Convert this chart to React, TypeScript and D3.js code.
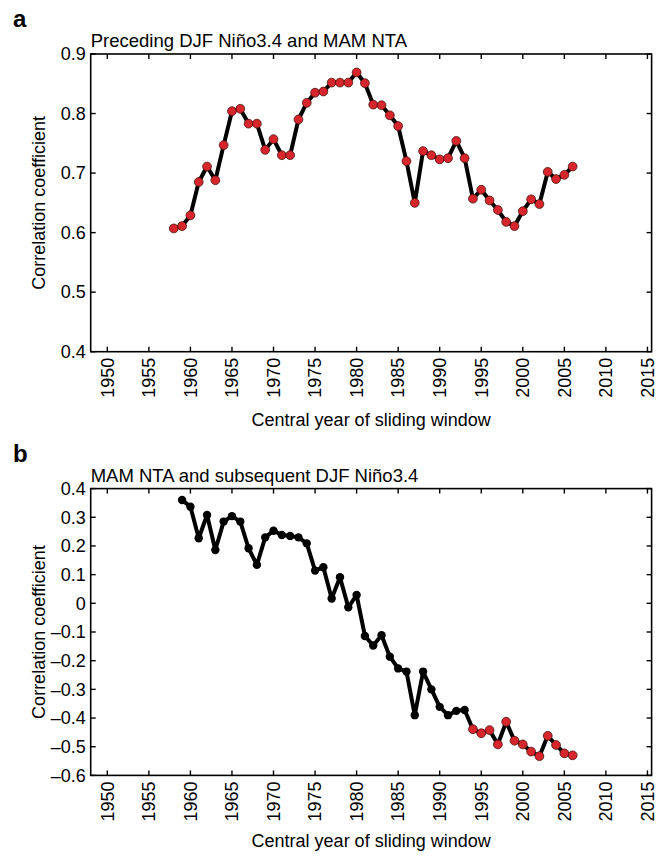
import * as d3 from 'd3';

// chart values
const YEARS_A = [
  1958, 1959, 1960, 1961, 1962, 1963, 1964, 1965, 1966, 1967,
  1968, 1969, 1970, 1971, 1972, 1973, 1974, 1975, 1976, 1977,
  1978, 1979, 1980, 1981, 1982, 1983, 1984, 1985, 1986, 1987,
  1988, 1989, 1990, 1991, 1992, 1993, 1994, 1995, 1996, 1997,
  1998, 1999, 2000, 2001, 2002, 2003, 2004, 2005, 2006,
];
const CORR_A = [
  0.607, 0.611, 0.629, 0.685, 0.711, 0.688, 0.747, 0.804, 0.808, 0.783,
  0.783, 0.739, 0.757, 0.73, 0.73, 0.79, 0.818, 0.835, 0.837, 0.852,
  0.852, 0.852, 0.869, 0.851, 0.815, 0.814, 0.797, 0.779, 0.72, 0.65,
  0.737, 0.73, 0.723, 0.725, 0.754, 0.725, 0.657, 0.672, 0.654, 0.638,
  0.618, 0.611, 0.636, 0.656, 0.648, 0.702, 0.69, 0.697, 0.711,
];
const SIG_A = YEARS_A; // every point in panel a is significant

const YEARS_B = [
  1959, 1960, 1961, 1962, 1963, 1964, 1965, 1966, 1967, 1968,
  1969, 1970, 1971, 1972, 1973, 1974, 1975, 1976, 1977, 1978,
  1979, 1980, 1981, 1982, 1983, 1984, 1985, 1986, 1987, 1988,
  1989, 1990, 1991, 1992, 1993, 1994, 1995, 1996, 1997, 1998,
  1999, 2000, 2001, 2002, 2003, 2004, 2005, 2006,
];
const CORR_B = [
  0.36, 0.337, 0.227, 0.308, 0.186, 0.285, 0.304, 0.285, 0.192, 0.134,
  0.23, 0.253, 0.238, 0.235, 0.23, 0.209, 0.114, 0.126, 0.017, 0.091,
  -0.014, 0.029, -0.114, -0.147, -0.111, -0.186, -0.227, -0.238, -0.39, -0.238,
  -0.3, -0.361, -0.39, -0.375, -0.372, -0.439, -0.453, -0.442, -0.492, -0.413,
  -0.479, -0.492, -0.517, -0.533, -0.462, -0.494, -0.523, -0.53,
];
const SIG_B = [
  1994, 1995, 1996, 1997, 1998, 1999, 2000, 2001, 2002, 2003, 2004, 2005, 2006,
];

const X_TICKS = [1950, 1955, 1960, 1965, 1970, 1975, 1980, 1985, 1990, 1995, 2000, 2005, 2010, 2015];
const Y_TICKS_A = [0.4, 0.5, 0.6, 0.7, 0.8, 0.9];
const Y_TICKS_B = [-0.6, -0.5, -0.4, -0.3, -0.2, -0.1, 0, 0.1, 0.2, 0.3, 0.4];

// layout
const W = 664;
const H = 856;
const LEFT = 90.7;
const RIGHT = 651.6;
const TICK = 5;
const FS = 18;
const FONT = 'Liberation Sans, Arial, Helvetica, sans-serif';
const RED = '#d7262b';

const x = d3.scaleLinear().domain([1948, 2015.5]).range([LEFT, RIGHT]);

const fmt = (v: number) => {
  if (Math.abs(v) < 1e-9) return '0';
  const s = d3.format('.1f')(Math.abs(v));
  return v < 0 ? '\u2013' + s : s;
};

type PanelProps = {
  letter: string;
  title: string;
  top: number;
  bottom: number;
  xTitleGap: number;
  yDomain: [number, number];
  yTicks: number[];
  years: number[];
  values: number[];
  sig: number[];
};

const Panel = ({ letter, title, top, bottom, xTitleGap, yDomain, yTicks, years, values, sig }: PanelProps) => {
  const y = d3.scaleLinear().domain(yDomain).range([bottom, top]);
  const pts = years.map((yr, i) => ({ yr, v: values[i] }));
  const line = d3
    .line<{ yr: number; v: number }>()
    .x((d) => x(d.yr))
    .y((d) => y(d.v));

  return (
    <g fontFamily={FONT}>
      <text x={13} y={top - 27} fontSize={24} fontWeight="bold">
        {letter}
      </text>
      <text x={LEFT} y={top - 7} fontSize={18.5}>
        {title}
      </text>

      {/* ticks, inward on all four sides */}
      {X_TICKS.map((t) => (
        <g key={'x' + t}>
          <line x1={x(t)} x2={x(t)} y1={bottom} y2={bottom - TICK} stroke="#000" strokeWidth={1.4} />
          <line x1={x(t)} x2={x(t)} y1={top} y2={top + TICK} stroke="#000" strokeWidth={1.4} />
          <text
            transform={`translate(${x(t)},${bottom + 6}) rotate(-90)`}
            textAnchor="end"
            dy="0.35em"
            fontSize={FS}
          >
            {t}
          </text>
        </g>
      ))}
      {yTicks.map((t) => (
        <g key={'y' + t}>
          <line x1={LEFT} x2={LEFT + TICK} y1={y(t)} y2={y(t)} stroke="#000" strokeWidth={1.4} />
          <line x1={RIGHT} x2={RIGHT - TICK} y1={y(t)} y2={y(t)} stroke="#000" strokeWidth={1.4} />
          <text x={LEFT - 5} y={y(t)} dy="0.35em" textAnchor="end" fontSize={FS}>
            {fmt(t)}
          </text>
        </g>
      ))}
      <rect x={LEFT} y={top} width={RIGHT - LEFT} height={bottom - top} fill="none" stroke="#000" strokeWidth={1.6} />

      <path d={line(pts) ?? ''} fill="none" stroke="#000" strokeWidth={4} strokeLinejoin="round" />
      {pts.map((d) =>
        sig.includes(d.yr) ? (
          <circle key={d.yr} cx={x(d.yr)} cy={y(d.v)} r={4.4} fill={RED} stroke="#4a1010" strokeWidth={0.8} />
        ) : (
          <circle key={d.yr} cx={x(d.yr)} cy={y(d.v)} r={4.2} fill="#000" />
        )
      )}

      <text
        transform={`translate(45,${(top + bottom) / 2}) rotate(-90)`}
        textAnchor="middle"
        fontSize={FS}
      >
        Correlation coefficient
      </text>
      <text x={(LEFT + RIGHT) / 2} y={bottom + xTitleGap} textAnchor="middle" fontSize={FS}>
        Central year of sliding window
      </text>
    </g>
  );
};

export default function App() {
  return (
    <svg
      width={W}
      height={H}
      viewBox={`0 0 ${W} ${H}`}
      style={{ position: 'absolute', left: 0, top: 0, background: '#fff' }}
    >
      <rect width={W} height={H} fill="#fff" />
      <Panel
        letter="a"
        title="Preceding DJF Niño3.4 and MAM NTA"
        top={54}
        bottom={351.7}
        xTitleGap={74}
        yDomain={[0.4, 0.9]}
        yTicks={Y_TICKS_A}
        years={YEARS_A}
        values={CORR_A}
        sig={SIG_A}
      />
      <Panel
        letter="b"
        title="MAM NTA and subsequent DJF Niño3.4"
        top={488.6}
        bottom={775.4}
        xTitleGap={72}
        yDomain={[-0.6, 0.4]}
        yTicks={Y_TICKS_B}
        years={YEARS_B}
        values={CORR_B}
        sig={SIG_B}
      />
    </svg>
  );
}
